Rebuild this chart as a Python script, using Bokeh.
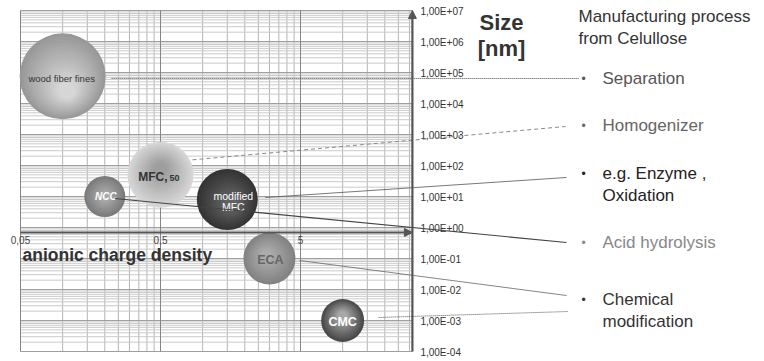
from bokeh.plotting import figure
from bokeh.models import Range1d, Arrow, NormalHead, ColumnDataSource
from bokeh.core.properties import value
from bokeh.embed import file_html
from bokeh.resources import INLINE

# ---------------- data ----------------
materials = ["wood fiber fines", "MFC", "NCC", "modified MFC", "ECA", "CMC"]
charge_density = [0.1, 0.5, 0.2, 1.5, 3.0, 10.0]          # x, anionic charge density
size_nm = [7.5e4, 50.0, 10.0, 8.0, 0.1, 0.001]            # y, size [nm]
bubble_size = [86, 66, 41, 61, 52, 43]                    # bubble diameter (px)

x_tick_values = [0.05, 0.5, 5.0]
x_tick_labels = ["0,05", "0,5", "5"]
y_tick_values = [1e-4, 1e-3, 1e-2, 1e-1, 1e0, 1e1, 1e2, 1e3, 1e4, 1e5, 1e6, 1e7]
y_tick_labels = ["1,00E-04", "1,00E-03", "1,00E-02", "1,00E-01", "1,00E+00", "1,00E+01",
                 "1,00E+02", "1,00E+03", "1,00E+04", "1,00E+05", "1,00E+06", "1,00E+07"]

x_min, x_max = 0.05, 31.5
y_min, y_max = 1e-4, 1e7
x_axis_crosses_at = 0.69

process_title = ["Manufacturing process", "from Celullose"]
processes = [["Separation"], ["Homogenizer"], ["e.g. Enzyme ,", "Oxidation"],
             ["Acid hydrolysis"], ["Chemical", "modification"]]

# ---------------- layout helpers (page pixels -> data) ----------------
XDEC, YDEC = 140.0, 31.0          # pixels per decade
X_PX0, Y_PX0 = 20.0, 10.0         # page pixel of x_min / y_max

def x_at(px):
    return x_min * 10 ** ((px - X_PX0) / XDEC)

def y_at(py):
    return y_max * 10 ** (-(py - Y_PX0) / YDEC)

def shift(x, y, dx, dy):
    return x * 10 ** (dx / XDEC), y * 10 ** (-dy / YDEC)

W, H = 762, 359
p = figure(width=W, height=H, x_axis_type="log", y_axis_type="log",
           x_range=Range1d(x_at(0), x_at(W)), y_range=Range1d(y_at(H), y_at(0)),
           output_backend="svg", toolbar_location=None, title=None,
           x_axis_location=None, y_axis_location=None, min_border=0)
p.outline_line_color = None
p.xgrid.visible = False
p.ygrid.visible = False
p.background_fill_color = "white"
p.border_fill_color = "white"

FONT = value("Liberation Sans")

# ---------------- grid ----------------
x_minor = []
for m in x_tick_values:
    for k in range(2, 10):
        v = m * k
        if v < x_max * 0.999 and v not in x_tick_values:
            x_minor.append(v)
y_minor = [d * k for d in y_tick_values[:-1] for k in range(2, 10)]

p.segment(x0=x_minor, y0=[y_min] * len(x_minor), x1=x_minor, y1=[y_max] * len(x_minor),
          line_color="#b4b4b4", line_width=1)
p.segment(x0=[x_min] * len(y_minor), y0=y_minor, x1=[x_max] * len(y_minor), y1=y_minor,
          line_color="#cacaca", line_width=1)
p.segment(x0=[x_min] * len(y_tick_values), y0=y_tick_values, x1=[x_max] * len(y_tick_values),
          y1=y_tick_values, line_color="#a0a0a0", line_width=1)
p.segment(x0=x_tick_values, y0=[y_min] * 3, x1=x_tick_values, y1=[y_max] * 3,
          line_color="#858585", line_width=1)

# ---------------- axes ----------------
AX = "#555555"
p.add_layout(Arrow(end=NormalHead(size=8, fill_color=AX, line_color=AX),
                   x_start=x_min, y_start=x_axis_crosses_at, x_end=x_max, y_end=x_axis_crosses_at,
                   line_color=AX, line_width=2))
p.add_layout(Arrow(end=NormalHead(size=8, fill_color=AX, line_color=AX),
                   x_start=x_max, y_start=y_min, x_end=x_max, y_end=y_max,
                   line_color=AX, line_width=2.2))

p.text(x=x_tick_values, y=[x_axis_crosses_at] * 3, text=x_tick_labels, text_font=FONT,
       text_font_size=value("10px"), text_color="#444444", text_align="center",
       text_baseline="middle", y_offset=8)
p.text(x=[x_max] * len(y_tick_values), y=y_tick_values, text=y_tick_labels, text_font=FONT,
       text_font_size=value("10px"), text_color="#333333", text_align="left",
       text_baseline="middle", x_offset=8, y_offset=1)

p.text(x=[x_at(22)], y=[x_axis_crosses_at], text=["anionic charge density"], text_font=FONT,
       text_font_size=value("17.5px"), text_font_style="bold", text_color="#333333",
       text_align="left", text_baseline="middle", y_offset=23)

p.text(x=[x_at(501)] * 2, y=[y_at(22), y_at(48)], text=["Size", "[nm]"], text_font=FONT,
       text_font_size=value("22px"), text_font_style="bold", text_color="#333333",
       text_align="center", text_baseline="middle")

# ---------------- bubbles (shaded) ----------------
shade = [  # edge colour, centre colour, highlight offset (px)
    ((152, 152, 152), (214, 214, 214), (4, 14)),
    ((214, 214, 214), (158, 158, 158), (0, -6)),
    ((122, 122, 122), (170, 170, 170), (0, 0)),
    ((52, 52, 52), (98, 98, 98), (4, 4)),
    ((130, 130, 130), (172, 172, 172), (-3, -3)),
    ((72, 72, 72), (168, 168, 168), (0, -5)),
]
N = 16
bx, by, bs, bc = [], [], [], []
for i in range(len(materials)):
    (e, c, (hx, hy)) = shade[i]
    for k in range(N):
        t = k / (N - 1)
        col = tuple(int(round(e[j] + (c[j] - e[j]) * t)) for j in range(3))
        xx, yy = shift(charge_density[i], size_nm[i], hx * t, hy * t)
        bx.append(xx)
        by.append(yy)
        bs.append(bubble_size[i] * (1 - 0.85 * k / N))
        bc.append("#%02x%02x%02x" % col)
p.scatter(x="x", y="y", size="s", fill_color="c", line_color=None, marker="circle",
          source=ColumnDataSource(dict(x=bx, y=by, s=bs, c=bc)))

# bubble labels
def blabel(i, txt, dx, dy, size, color, style="normal", align="center"):
    p.text(x=[charge_density[i]], y=[size_nm[i]], text=[txt], text_font=FONT,
           text_font_size=value(size), text_font_style=style, text_color=color,
           text_align=align, text_baseline="middle", x_offset=dx, y_offset=dy)

blabel(0, "wood fiber fines", -1, 2, "9.5px", "#333333")
blabel(1, "MFC,", 7, 2, "12px", "#333333", "bold", "right")
blabel(1, "50", 9, 3, "9px", "#333333", "bold", "left")
blabel(2, "NCC", 1, 0, "10px", "white", "bold italic")
blabel(3, "modified", 6, -4, "10.5px", "white")
blabel(3, "MFC", 6, 7, "10.5px", "white")
blabel(4, "ECA", 1, 1, "12.5px", "#666666", "bold")
blabel(5, "CMC", 0, 1, "12.5px", "white", "bold")

# ---------------- leader lines ----------------
leaders = [  # bubble, start offset px, end page px, dash, colour, width
    (0, (49, 2), (578, 78), "1 1", "#444444", 1.0),
    (1, (32, -15), (565, 126), "4 3", "#888888", 1.0),
    (3, (38, -2), (566, 177), "solid", "#555555", 0.8),
    (2, (10, 2), (566, 242), "solid", "#444444", 1.2),
    (4, (30, 2), (566, 295), "solid", "#666666", 0.8),
    (5, (36, -3), (568, 311), "1 1", "#555555", 1.0),
]
for i, (dx, dy), (ex, ey), dash, col, w in leaders:
    sx, sy = shift(charge_density[i], size_nm[i], dx, dy)
    p.line(x=[sx, x_at(ex)], y=[sy, y_at(ey)], line_color=col, line_width=w, line_dash=dash)

# ---------------- process texts ----------------
p.text(x=[x_at(578)] * 2, y=[y_at(16), y_at(38)], text=process_title, text_font=FONT,
       text_font_size=value("17px"), text_color="#333333", text_align="left",
       text_baseline="middle")

proc_y = [78, 125, 173, 242, 299]
proc_col = ["#555555", "#666666", "#222222", "#888888", "#333333"]
for lines, py, col in zip(processes, proc_y, proc_col):
    p.text(x=[x_at(583)], y=[y_at(py)], text=["\u2022"], text_font=FONT,
           text_font_size=value("12px"), text_color=col, text_align="center",
           text_baseline="middle")
    for j, ln in enumerate(lines):
        p.text(x=[x_at(602)], y=[y_at(py + 22 * j)], text=[ln], text_font=FONT,
               text_font_size=value("17px"), text_color=col, text_align="left",
               text_baseline="middle")

open("out.html", "w").write(file_html(p, INLINE))
